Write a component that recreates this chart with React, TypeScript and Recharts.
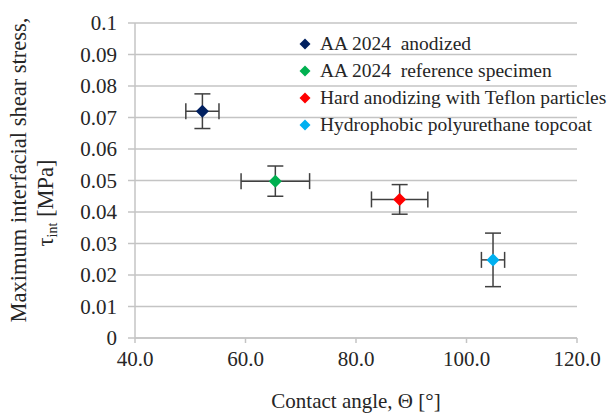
import React from 'react';
import { ScatterChart, Scatter, XAxis, YAxis, CartesianGrid, ErrorBar } from 'recharts';

const seriesNames = [
  'AA 2024  anodized',
  'AA 2024  reference specimen',
  'Hard anodizing with Teflon particles',
  'Hydrophobic polyurethane topcoat',
];
const seriesColors = ['#002060', '#00B050', '#FF0000', '#00B0F0'];
const contactAngle = [52.2, 65.4, 87.9, 104.8];
const contactAngleErr = [3.0, 6.2, 5.1, 2.1];
const shearStress = [0.072, 0.0498, 0.044, 0.0248];
const shearStressErr = [0.0055, 0.0048, 0.0047, 0.0085];
const xTicks = [40, 60, 80, 100, 120];
const yTicks = [0, 0.01, 0.02, 0.03, 0.04, 0.05, 0.06, 0.07, 0.08, 0.09, 0.1];

const FONT = '"Liberation Serif", "Times New Roman", serif';
const GRID = '#c4c4c4';
const TEXT = '#262626';
const ERR = '#404040';

const Diamond = ({ cx, cy, fill, r = 6.5 }: any) => (
  <path d={`M${cx},${cy - r}L${cx + r},${cy}L${cx},${cy + r}L${cx - r},${cy}Z`} fill={fill} />
);

const YTitle = () => (
  <g fontFamily={FONT} fill={TEXT} style={{ whiteSpace: 'pre' }}>
    <text x={0} y={0} transform="translate(26,170) rotate(-90)" textAnchor="middle" fontSize={22.5}>
      Maximum interfacial  shear stress,
    </text>
    <text x={0} y={0} transform="translate(53,203) rotate(-90)" textAnchor="middle" fontSize={22.5}>
      τ<tspan fontSize={14} dy={4}>int</tspan>
      <tspan dy={-4}> [MPa]</tspan>
    </text>
  </g>
);

export default function App() {
  const series = seriesNames.map((name, i) => ({
    name,
    color: seriesColors[i],
    data: [{ x: contactAngle[i], y: shearStress[i], ex: contactAngleErr[i], ey: shearStressErr[i] }],
  }));

  return (
    <div style={{ position: 'relative', width: 609, height: 417, background: '#fff' }}>
      <style>{'body{margin:0}'}</style>
      <ScatterChart width={609} height={417} margin={{ top: 23, right: 32, bottom: 0, left: 0 }}>
        <CartesianGrid horizontal vertical={false} stroke={GRID} strokeWidth={1.5} />
        <XAxis
          type="number"
          dataKey="x"
          domain={[40, 120]}
          ticks={xTicks}
          tickFormatter={(v: number) => v.toFixed(1)}
          height={79}
          stroke={GRID}
          strokeWidth={1.5}
          tickSize={5}
          tickMargin={8}
          tick={{ fill: TEXT, fontSize: 21, fontFamily: FONT }}
          label={{ value: 'Contact angle, Θ [°]', position: 'insideBottom', offset: 9, fill: TEXT, fontSize: 21, fontFamily: FONT }}
        />
        <YAxis
          type="number"
          dataKey="y"
          domain={[0, 0.1]}
          ticks={yTicks}
          width={135}
          stroke={GRID}
          strokeWidth={1.5}
          tickSize={7}
          tickMargin={11}
          tick={{ fill: TEXT, fontSize: 21, fontFamily: FONT }}
          label={{ content: () => <YTitle /> }}
        />
        {series.map((s) => (
          <Scatter
            key={s.name}
            name={s.name}
            data={s.data}
            fill={s.color}
            isAnimationActive={false}
            shape={(p: any) => <Diamond cx={p.cx} cy={p.cy} fill={s.color} />}
          >
            <ErrorBar dataKey="ex" direction="x" width={8} stroke={ERR} strokeWidth={1.5} />
            <ErrorBar dataKey="ey" direction="y" width={8} stroke={ERR} strokeWidth={1.5} />
          </Scatter>
        ))}
      </ScatterChart>
      <div style={{ position: 'absolute', left: 299, top: 30, fontFamily: FONT, fontSize: 19.5, color: TEXT }}>
        {series.map((s) => (
          <div key={s.name} style={{ display: 'flex', alignItems: 'center', height: 27, whiteSpace: 'pre' }}>
            <svg width={12} height={12} style={{ marginRight: 9 }}>
              <Diamond cx={6} cy={6} r={5.5} fill={s.color} />
            </svg>
            {s.name}
          </div>
        ))}
      </div>
    </div>
  );
}
